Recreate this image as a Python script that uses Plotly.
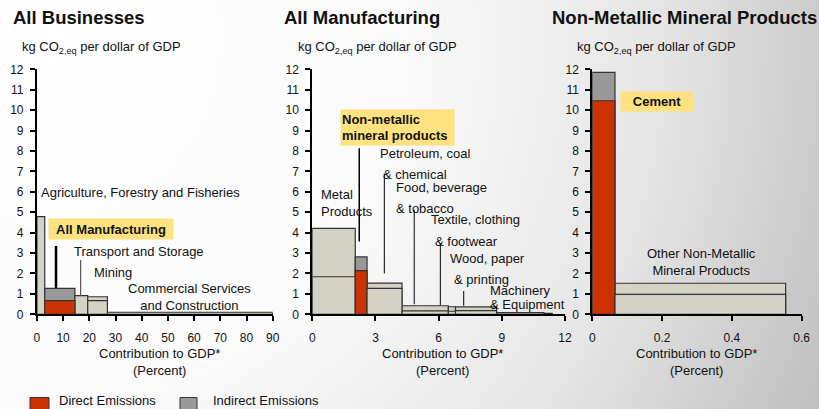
import base64
import numpy as np
import plotly.graph_objects as go

# ---------------- data ----------------
# All businesses: share of GDP (%) and emission intensity (kg CO2eq per $ of GDP)
biz_sectors = ["Agriculture, Forestry and Fisheries", "All Manufacturing",
               "Transport and Storage", "Mining", "Commercial Services and Construction"]
biz_gdp_share = [3.0, 11.5, 4.9, 7.5, 63.1]
biz_total = [4.78, 1.27, 0.91, 0.86, 0.10]
biz_direct = [None, 0.67, None, 0.67, None]
biz_focus = "All Manufacturing"

# Manufacturing sub-sectors
mfg_sectors = ["Metal Products", "Non-metallic mineral products", "Petroleum, coal & chemical",
               "Food, beverage & tobacco", "Textile, clothing & footwear",
               "Wood, paper & printing", "Machinery & Equipment", "Other manufacturing"]
mfg_gdp_share = [2.04, 0.56, 1.66, 2.20, 0.34, 1.95, 2.25, 0.40]
mfg_total = [4.21, 2.81, 1.53, 0.42, 0.37, 0.36, 0.08, 0.05]
mfg_direct = [1.84, 2.14, 1.27, 0.17, 0.15, 0.18, None, None]
mfg_focus = "Non-metallic mineral products"

# Non-metallic mineral products
nmm_sectors = ["Cement", "Other Non-Metallic Mineral Products"]
nmm_gdp_share = [0.065, 0.489]
nmm_total = [11.85, 1.52]
nmm_direct = [10.46, 0.98]
nmm_focus = "Cement"

y_ticks = list(range(0, 13))
biz_x_ticks = list(range(0, 91, 10))
mfg_x_ticks = [0, 3, 6, 9, 12]
nmm_x_ticks = [0, 0.2, 0.4, 0.6]

# ---------------- style ----------------
W, H = 819, 409
FONT = "Liberation Sans, Arial, sans-serif"
INK = "#111111"
RED = "#cc3300"
GREY = "#999999"
BEIGE = "#d4d2c5"
EDGE = "#333333"
YELLOW = "#fde27f"
LABEL = 13


def paper(x, y):
    """Pixel position on the canvas -> paper fraction."""
    return x / W, 1 - y / H


fig = go.Figure()


def add_panel(sectors, share, total, direct, focus, xa, ya):
    share = np.asarray(share, dtype=float)
    left = np.concatenate([[0.0], np.cumsum(share)[:-1]])
    centre = left + share / 2
    is_focus = [s == focus for s in sectors]
    fig.add_trace(go.Bar(
        x=centre, y=total, width=share, base=0,
        marker=dict(color=[GREY if f else BEIGE for f in is_focus],
                    line=dict(color=EDGE, width=1.2)),
        xaxis=xa, yaxis=ya, showlegend=False, hoverinfo="skip"))
    fig.add_trace(go.Bar(
        x=centre, y=direct, width=share, base=0,
        marker=dict(color=[RED if f else BEIGE for f in is_focus],
                    line=dict(color=EDGE, width=1.2)),
        xaxis=xa, yaxis=ya, showlegend=False, hoverinfo="skip"))


add_panel(biz_sectors, biz_gdp_share, biz_total, biz_direct, biz_focus, "x", "y")
add_panel(mfg_sectors, mfg_gdp_share, mfg_total, mfg_direct, mfg_focus, "x2", "y2")
add_panel(nmm_sectors, nmm_gdp_share, nmm_total, nmm_direct, nmm_focus, "x3", "y3")

# axis placement (pixels on the canvas)
y_dom = [1 - 314.3 / H, 1 - 69.3 / H]
x_doms = [[36.9 / W, 272.7 / W], [312.3 / W, 565.0 / W], [592.3 / W, 801.7 / W]]
x_ranges = [[0, 90], [0, 12], [0, 0.6]]
x_tickvals = [biz_x_ticks, mfg_x_ticks, nmm_x_ticks]

axis_common = dict(showline=True, linecolor="black", linewidth=2, ticks="outside",
                   ticklen=5, tickwidth=1.5, tickcolor="black", showgrid=False,
                   zeroline=False, fixedrange=True, automargin=False,
                   tickfont=dict(family=FONT, size=12, color=INK))

layout_axes = {}
for i in range(3):
    sx = "" if i == 0 else str(i + 1)
    layout_axes["xaxis" + sx] = dict(domain=x_doms[i], range=x_ranges[i],
                                     tickvals=x_tickvals[i], anchor="y" + sx,
                                     ticklabelstandoff=6, **axis_common)
    layout_axes["yaxis" + sx] = dict(domain=y_dom, range=[0, 12], tickvals=y_ticks,
                                     anchor="x" + sx, ticklabelstandoff=4, **axis_common)

fig.update_layout(**layout_axes)


def label(text, x, y, xref="paper", yref="paper", anchor="left", size=LABEL, bold=False,
          **kw):
    if bold:
        text = "<b>" + text + "</b>"
    fig.add_annotation(text=text, x=x, y=y, xref=xref, yref=yref, xanchor=anchor,
                       yanchor="middle", showarrow=False,
                       font=dict(family=FONT, size=size, color=INK), **kw)


def leader(x, y0, y1, xref, yref, width=1, color="black"):
    fig.add_shape(type="line", x0=x, x1=x, y0=y0, y1=y1, xref=xref, yref=yref,
                  line=dict(color=color, width=width))


# panel titles
for text, x in [("All Businesses", 11), ("All Manufacturing", 282),
                ("Non-Metallic Mineral Products", 550)]:
    px_, py_ = paper(x, 17)
    label(text, px_, py_, size=18.5, bold=True)

# y-axis captions
for x in [20, 296, 575]:
    px_, py_ = paper(x, 47)
    label("kg CO<sub>2,eq</sub> per dollar of GDP", px_, py_)

# x-axis captions
for x in [159.7, 442.5, 696]:
    px_, py_ = paper(x, 362)
    label("Contribution to GDP*<br>(Percent)", px_, py_, anchor="center")

# ---- All businesses labels ----
label("Agriculture, Forestry and Fisheries", 0.7, 5.97, "x", "y")
label("All Manufacturing", 28.3, 4.16, "x", "y", anchor="center", bold=True,
      bgcolor=YELLOW, width=122, height=18, borderpad=1)
label("Transport and Storage", 13.5, 3.1, "x", "y")
label("Mining", 21.1, 2.04, "x", "y")
label("Commercial Services<br>and Construction", 58.4, 0.84, "x", "y", anchor="center")
leader(7.3, 3.34, 1.27, "x", "y", width=2.5)
leader(16.7, 2.66, 0.91, "x", "y", width=1.2, color="#555555")

# ---- Manufacturing labels ----
label("Non-metallic<br>mineral products", 4.05, 9.15, "x2", "y2", anchor="center",
      bold=True, bgcolor=YELLOW, width=111, height=33, borderpad=1, align="left")
label("Metal<br>Products", 0.30, 5.44, "x2", "y2", align="left")
label("Petroleum, coal", 3.12, 7.88, "x2", "y2")
label("& chemical", 3.27, 6.86, "x2", "y2")
label("Food, beverage", 3.90, 6.20, "x2", "y2")
label("& tobacco", 3.90, 5.19, "x2", "y2")
label("Textile, clothing", 5.56, 4.62, "x2", "y2")
label("& footwear", 5.72, 3.59, "x2", "y2")
label("Wood, paper", 6.43, 2.74, "x2", "y2")
label("& printing", 6.64, 1.71, "x2", "y2")
label("Machinery", 8.33, 1.19, "x2", "y2")
label("& Equipment", 8.33, 0.46, "x2", "y2")
leader(2.23, 8.13, 3.56, "x2", "y2", width=1.5)
leader(3.42, 6.90, 2.00, "x2", "y2")
leader(4.84, 5.11, 0.49, "x2", "y2")
leader(6.08, 3.48, 0.45, "x2", "y2")
leader(7.19, 1.14, 0.42, "x2", "y2")

# ---- Non-metallic mineral labels ----
label("Cement", 0.1854, 10.40, "x3", "y3", anchor="center", bold=True,
      bgcolor=YELLOW, width=70, height=17, borderpad=1)
label("Other Non-Metallic<br>Mineral Products", 0.3135, 2.55, "x3", "y3", anchor="center")

# ---- legend ----
for x0, x1, color, text, tx in [(30, 49, RED, "Direct Emissions", 57.3),
                                (180, 197, GREY, "Indirect Emissions", 210.7)]:
    ax0, ay0 = paper(x0, 397.5)
    ax1, ay1 = paper(x1, 415)
    fig.add_shape(type="rect", x0=ax0, x1=ax1, y0=ay1, y1=ay0, xref="paper",
                  yref="paper", fillcolor=color, line=dict(color=EDGE, width=1))
    lx, ly = paper(tx, 400.5)
    label(text, lx, ly)

# shaded background
svg = (f'<svg xmlns="http://www.w3.org/2000/svg" width="{W}" height="{H}">'
       '<defs><radialGradient id="g" gradientUnits="userSpaceOnUse" cx="40" cy="40" r="880">'
       '<stop offset="0" stop-color="#ffffff"/><stop offset="0.4" stop-color="#fbfbfb"/>'
       '<stop offset="0.7" stop-color="#e6e6e6"/><stop offset="1" stop-color="#bcbcbc"/>'
       '</radialGradient></defs>'
       f'<rect width="{W}" height="{H}" fill="url(#g)"/></svg>')
bg_src = "data:image/svg+xml;base64," + base64.b64encode(svg.encode()).decode()
fig.add_layout_image(dict(source=bg_src, xref="paper", yref="paper", x=0, y=1,
                          sizex=1, sizey=1, xanchor="left", yanchor="top",
                          sizing="stretch", layer="below"))

fig.update_layout(width=W, height=H, autosize=False, barmode="overlay",
                  margin=dict(l=0, r=0, t=0, b=0, pad=0),
                  paper_bgcolor="white", plot_bgcolor="rgba(0,0,0,0)",
                  font=dict(family=FONT, size=12, color=INK))

fig.write_html("out.html",
               post_script="document.body.style.margin='0';"
                           "document.body.style.overflow='hidden';")
